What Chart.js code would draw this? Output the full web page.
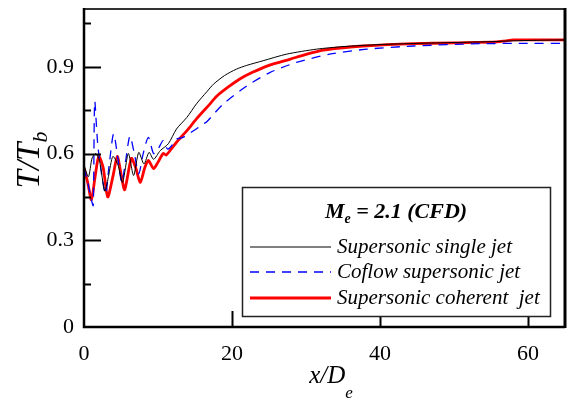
<!DOCTYPE html>
<html>
<head>
<meta charset="utf-8">
<script src="https://cdn.jsdelivr.net/npm/chart.js@4.4.1/dist/chart.umd.min.js"></script>
<style>
html,body{margin:0;padding:0;background:#fff;}
#wrap{width:569px;height:403px;position:relative;}
</style>
</head>
<body>
<div id="wrap"><canvas id="c" width="569" height="403"></canvas></div>
<script>
// ---- Data ----
const seriesNames = ['Supersonic single jet', 'Coflow supersonic jet', 'Supersonic coherent  jet'];
const legendTitleMain = 'M';
const legendTitleSub = 'e';
const legendTitleRest = ' = 2.1 (CFD)';

const singleX = [0, 0.6, 1.1, 1.6, 2.1, 2.8, 3.3, 3.9, 4.6, 5.2, 6.0, 6.7, 7.4, 8.1, 8.8, 9.4, 10.3, 11.4, 12.5, 13.9, 15.2, 16.6, 17.5, 19.0, 20.6, 22.0, 24.2, 27.4, 31.4, 35.0, 40.0, 45.0, 50.0, 55.0, 58.0, 62.0, 65.0];
const singleY = [0.56, 0.52, 0.585, 0.60, 0.575, 0.47, 0.52, 0.59, 0.56, 0.50, 0.60, 0.524, 0.604, 0.564, 0.604, 0.58, 0.61, 0.634, 0.685, 0.725, 0.772, 0.814, 0.840, 0.870, 0.892, 0.905, 0.921, 0.944, 0.961, 0.970, 0.977, 0.981, 0.984, 0.987, 0.99, 0.992, 0.993];

const coflowX = [0, 0.5, 1.0, 1.25, 1.45, 1.9, 2.9, 3.4, 4.0, 4.6, 5.1, 5.6, 6.2, 6.8, 7.4, 8.0, 8.7, 9.4, 10.0, 10.7, 11.3, 12.0, 12.5, 13.3, 14.4, 16.1, 16.6, 18.8, 22.0, 25.1, 28.7, 33.2, 38.2, 44.5, 53.5, 60.0, 65.0];
const coflowY = [0.55, 0.50, 0.44, 0.42, 0.78, 0.62, 0.46, 0.56, 0.668, 0.58, 0.50, 0.57, 0.66, 0.60, 0.53, 0.60, 0.656, 0.60, 0.615, 0.645, 0.615, 0.632, 0.65, 0.655, 0.672, 0.702, 0.71, 0.771, 0.834, 0.880, 0.915, 0.944, 0.961, 0.972, 0.980, 0.981, 0.981];

const coherentX = [0, 0.5, 1.0, 1.5, 2.0, 2.6, 3.2, 3.9, 4.5, 5.0, 5.5, 6.4, 7.0, 7.6, 8.2, 8.7, 9.4, 10.0, 10.7, 11.1, 11.8, 12.5, 13.9, 15.2, 17.0, 18.0, 19.7, 21.0, 22.7, 25.0, 27.8, 30.0, 32.3, 35.0, 37.7, 41.0, 44.5, 50.0, 55.8, 57.0, 58.0, 62.0, 65.0];
const coherentY = [0.55, 0.50, 0.44, 0.52, 0.59, 0.55, 0.45, 0.52, 0.59, 0.53, 0.475, 0.583, 0.55, 0.50, 0.55, 0.576, 0.548, 0.57, 0.60, 0.595, 0.616, 0.639, 0.679, 0.72, 0.771, 0.80, 0.834, 0.857, 0.880, 0.905, 0.926, 0.943, 0.958, 0.966, 0.972, 0.977, 0.98, 0.983, 0.986, 0.99, 0.993, 0.993, 0.993];

const xTickValues = [0, 20, 40, 60];
const xTickLabels = ['0', '20', '40', '60'];
const yTickValues = [0, 0.3, 0.6, 0.9];
const yTickLabels = ['0', '0.3', '0.6', '0.9'];
const yMinorTicks = [0.15, 0.45, 0.75, 1.05];

const toPts = (xs, ys) => xs.map((x, i) => ({x: x, y: ys[i]}));

const SERIF = "'Liberation Serif'";

function drawSub(ctx, parts, x, y, align) {
  let total = 0;
  parts.forEach(p => { ctx.font = p.font; p.w = ctx.measureText(p.t).width; total += p.w; });
  let cx = align === 'center' ? x - total / 2 : x;
  ctx.textAlign = 'left';
  ctx.textBaseline = 'alphabetic';
  parts.forEach(p => { ctx.font = p.font; ctx.fillText(p.t, cx, y + (p.dy || 0)); cx += p.w; });
}

const decor = {
  id: 'decor',
  afterDraw(chart) {
    const ctx = chart.ctx;
    const ca = chart.chartArea;
    const xs = chart.scales.x, ys = chart.scales.y;
    ctx.save();
    ctx.strokeStyle = '#000';
    ctx.lineWidth = 2;
    yTickValues.forEach(v => {
      if (v === 0) return;
      const py = Math.round(ys.getPixelForValue(v)) + 0.5;
      ctx.beginPath(); ctx.moveTo(ca.left, py); ctx.lineTo(ca.left + 17, py); ctx.stroke();
    });
    yMinorTicks.forEach(v => {
      const py = Math.round(ys.getPixelForValue(v)) + 0.5;
      ctx.beginPath(); ctx.moveTo(ca.left, py); ctx.lineTo(ca.left + 7, py); ctx.stroke();
    });
    xTickValues.forEach(v => {
      if (v === 0) return;
      const px = Math.round(xs.getPixelForValue(v)) + 0.5;
      ctx.beginPath(); ctx.moveTo(px, ca.bottom); ctx.lineTo(px, ca.bottom - 16); ctx.stroke();
    });
    // frame
    ctx.lineWidth = 2;
    ctx.strokeStyle = '#333';
    ctx.beginPath(); ctx.moveTo(ca.left, ca.top); ctx.lineTo(ca.right, ca.top); ctx.stroke();
    ctx.strokeStyle = '#000';
    ctx.lineWidth = 2.5;
    ctx.beginPath(); ctx.moveTo(ca.left, ca.top - 1); ctx.lineTo(ca.left, ca.bottom); ctx.lineTo(ca.right, ca.bottom); ctx.stroke();
    ctx.lineWidth = 3;
    ctx.beginPath(); ctx.moveTo(ca.right, ca.top - 1); ctx.lineTo(ca.right, ca.bottom + 1); ctx.stroke();

    // axis titles
    ctx.fillStyle = '#000';
    drawSub(ctx, [
      {t: 'x/D', font: 'italic 25px ' + SERIF},
      {t: 'e', font: 'italic 17px ' + SERIF, dy: 15}
    ], 331, 383, 'center');
    ctx.save();
    ctx.translate(39, 160);
    ctx.rotate(-Math.PI / 2);
    drawSub(ctx, [
      {t: 'T/T', font: 'italic 33px ' + SERIF},
      {t: 'b', font: 'italic 22px ' + SERIF, dy: 8}
    ], 0, 0, 'center');
    ctx.restore();

    // legend
    const L = 242, T = 187, R = 550, B = 316;
    ctx.fillStyle = '#fff';
    ctx.fillRect(L, T, R - L, B - T);
    ctx.strokeStyle = '#222';
    ctx.lineWidth = 1.5;
    ctx.strokeRect(L + 0.5, T + 0.5, R - L, B - T);
    ctx.fillStyle = '#000';
    drawSub(ctx, [
      {t: legendTitleMain, font: 'italic bold 22px ' + SERIF},
      {t: legendTitleSub, font: 'italic bold 14px ' + SERIF, dy: 5},
      {t: legendTitleRest, font: 'italic bold 22px ' + SERIF}
    ], 396, 218, 'center');
    const rowsY = [247, 272, 298];
    chart.data.datasets.forEach((ds, i) => {
      const yy = rowsY[i];
      ctx.save();
      ctx.strokeStyle = ds.borderColor;
      ctx.lineWidth = ds.borderWidth;
      ctx.setLineDash(ds.borderDash || []);
      ctx.beginPath(); ctx.moveTo(250, yy); ctx.lineTo(331, yy); ctx.stroke();
      ctx.restore();
      ctx.fillStyle = '#000';
      ctx.font = 'italic 21px ' + SERIF;
      ctx.textAlign = 'left';
      ctx.textBaseline = 'middle';
      ctx.fillText(ds.label, 337, yy);
    });
    ctx.restore();
  }
};

function build() {
  Chart.defaults.font.family = SERIF;
  new Chart(document.getElementById('c'), {
    type: 'line',
    data: {
      datasets: [
        {label: seriesNames[0], data: toPts(singleX, singleY), borderColor: '#000000', borderWidth: 1, pointRadius: 0, tension: 0.25},
        {label: seriesNames[1], data: toPts(coflowX, coflowY), borderColor: '#0000ff', borderWidth: 1.3, borderDash: [9, 7], pointRadius: 0, tension: 0.25},
        {label: seriesNames[2], data: toPts(coherentX, coherentY), borderColor: '#ff0000', borderWidth: 2.8, pointRadius: 0, tension: 0.25}
      ]
    },
    options: {
      responsive: false,
      animation: false,
      layout: {padding: {top: 9, right: 4, left: 0, bottom: 0}},
      plugins: {legend: {display: false}, tooltip: {enabled: false}},
      scales: {
        x: {
          type: 'linear', min: 0, max: 65,
          grid: {display: false, drawTicks: false},
          border: {display: false},
          afterBuildTicks: s => { s.ticks = xTickValues.map(v => ({value: v})); },
          afterFit: s => { s.height = 76; s.paddingLeft = 0; s.paddingRight = 0; },
          ticks: {
            color: '#000', padding: 14,
            font: {family: SERIF, size: 22},
            maxRotation: 0,
            callback: v => { const i = xTickValues.indexOf(v); return i >= 0 ? xTickLabels[i] : ''; }
          }
        },
        y: {
          type: 'linear', min: 0, max: 1.1,
          grid: {display: false, drawTicks: false},
          border: {display: false},
          afterBuildTicks: s => { s.ticks = yTickValues.map(v => ({value: v})); },
          afterFit: s => { s.width = 84; s.paddingTop = 0; s.paddingBottom = 0; },
          ticks: {
            color: '#000', padding: 10,
            font: {family: SERIF, size: 22},
            callback: v => { const i = yTickValues.findIndex(t => Math.abs(t - v) < 1e-9); return i >= 0 ? yTickLabels[i] : ''; }
          }
        }
      }
    },
    plugins: [decor]
  });
}

const fontLoads = ['22px', 'italic 21px', 'italic bold 22px'].map(f => document.fonts.load(f + " 'Liberation Serif'"));
Promise.all(fontLoads).then(build, build);
</script>
</body>
</html>
